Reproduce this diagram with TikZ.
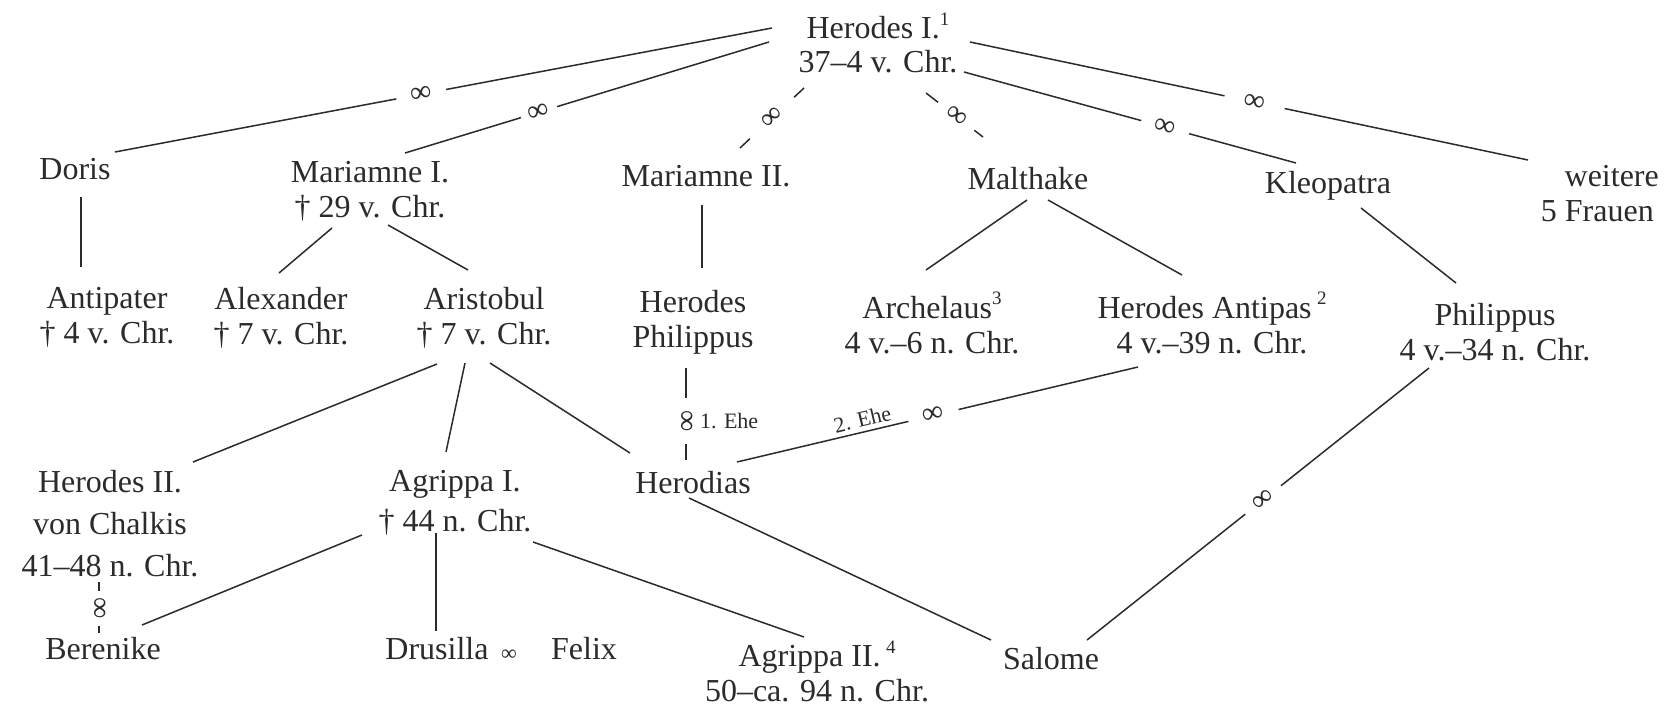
\documentclass[tikz,border=0pt]{standalone}
\usepackage{fontspec}
\setmainfont{Liberation Serif}
\usetikzlibrary{calc}
\definecolor{ink}{HTML}{2B2B2B}
\newcommand\sups[1]{\raisebox{0.42em}{\fontsize{19}{19}\selectfont #1}}
\begin{document}
\begin{tikzpicture}[x=1pt,y=-1pt,
  every node/.style={inner sep=0pt, text=ink, align=center},
  lbl/.style={font=\fontsize{32}{35}\selectfont, text depth=0.25em},
  lblw/.style={font=\fontsize{32}{41}\selectfont, text depth=0.25em},
  rel/.style={draw=ink, line width=1.5pt},
  marr/.style={sloped, fill=white, inner ysep=1pt, font=\fontsize{30}{30}\selectfont},
  small/.style={font=\fontsize{22}{22}\selectfont}]
\fill[white] (0,0) rectangle (1673,707);
\useasboundingbox (0,0) rectangle (1673,707);
% nodes
\node[lbl, font=\fontsize{32}{34}\selectfont] (H1) at (878,44) {Herodes I.\sups{1}\\37–4 v. Chr.};
\node[lbl] (Doris) at (75,170) {Doris};
\node[lbl] (MarI) at (370,191) {Mariamne I.\\† 29 v. Chr.};
\node[lbl] (MarII) at (706,177) {Mariamne II.};
\node[lbl] (Mal) at (1028,180) {Malthake};
\node[lbl] (Kleo) at (1328,184) {Kleopatra};
\node[lbl, anchor=east, align=right] (Weit) at (1654,195) {weitere\hspace*{-5pt}\\5 Frauen};
\node[lbl] (Ant) at (107,317) {Antipater\\† 4 v. Chr.};
\node[lbl] (Alex) at (281,317) {Alexander\\† 7 v. Chr.};
\node[lbl] (Aris) at (484,317) {Aristobul\\† 7 v. Chr.};
\node[lbl] (HPhil) at (693,320) {Herodes\\Philippus};
\node[lbl] (Arch) at (932,324) {Archelaus\sups{3}\\4 v.–6 n. Chr.};
\node[lbl] (Antipas) at (1212,324) {Herodes Antipas\,\sups{2}\\4 v.–39 n. Chr.};
\node[lbl] (Phil) at (1495,333) {Philippus\\4 v.–34 n. Chr.};
\node[lblw, font=\fontsize{32}{42}\selectfont] (HerII) at (110,525) {Herodes II.\\von Chalkis\\41–48 n. Chr.};
\node[lblw, font=\fontsize{32}{40}\selectfont] (AgrI) at (455,502) {Agrippa I.\\† 44 n. Chr.};
\node[lbl] (Herodias) at (693,484) {Herodias};
\node[lbl] (Ber) at (103,650) {Berenike};
\node[lbl] (Drus) at (437,650) {Drusilla};
\node[font=\fontsize{22}{22}\selectfont] (DF) at (509,655) {∞};
\node[lbl] (Felix) at (584,650) {Felix};
\node[lbl, text depth=0pt, anchor=south] (AgrII) at (817,702) {Agrippa II.\,\sups{4}\\50–ca. 94 n. Chr.};
\node[lbl] (Salome) at (1051,660) {Salome};
% marriages of Herodes I.
\draw[rel] ([shift={(-106,-16)}]H1.center) -- node[marr,pos=0.534,inner xsep=14.5pt]{∞} ([shift={(40,-18)}]Doris.center);
\draw[rel] ([shift={(-109,-2)}]H1.center) -- node[marr,pos=0.632,inner xsep=8pt]{∞} ([shift={(35,-38)}]MarI.center);
\draw[rel] ([shift={(-74,44)}]H1.center) -- node[marr,pos=0.5,inner xsep=19.5pt]{∞} ([shift={(34,-29)}]MarII.center);
\draw[rel] ([shift={(48,49)}]H1.center) -- node[marr,pos=0.53,inner xsep=12pt]{∞} ([shift={(-45,-43)}]Mal.center);
\draw[rel] ([shift={(86,28)}]H1.center) -- node[marr,pos=0.606,inner xsep=14pt]{∞} ([shift={(-32,-21)}]Kleo.center);
\draw[rel] ([shift={(92,-2)}]H1.center) -- node[marr,pos=0.51,inner xsep=20pt]{∞} ([shift={(-126,-35)}]Weit.east);
% children
\draw[rel] ([shift={(6,27)}]Doris.center) -- ([shift={(-26,-50)}]Ant.center);
\draw[rel] ([shift={(-38,37)}]MarI.center) -- ([shift={(-2,-44)}]Alex.center);
\draw[rel] ([shift={(18,34)}]MarI.center) -- ([shift={(-16,-47)}]Aris.center);
\draw[rel] ([shift={(-4,28)}]MarII.center) -- ([shift={(9,-52)}]HPhil.center);
\draw[rel] ([shift={(-1,20)}]Mal.center) -- ([shift={(-6,-54)}]Arch.center);
\draw[rel] ([shift={(20,20)}]Mal.center) -- ([shift={(-30,-49)}]Antipas.center);
\draw[rel] ([shift={(33,24)}]Kleo.center) -- ([shift={(-39,-50)}]Phil.center);
\draw[rel] ([shift={(-47,47)}]Aris.center) -- ([shift={(83,-63)}]HerII.center);
\draw[rel] ([shift={(-19,46)}]Aris.center) -- ([shift={(-9,-50)}]AgrI.center);
\draw[rel] ([shift={(6,46)}]Aris.center) -- ([shift={(-63,-31)}]Herodias.center);
\draw[rel] ([shift={(-4,14)}]Herodias.center) -- ([shift={(-60,-20)}]Salome.center);
\draw[rel] ([shift={(-93,33)}]AgrI.center) -- ([shift={(39,-25)}]Ber.center);
\draw[rel] ([shift={(-19,31)}]AgrI.center) -- ([shift={(-1,-19)}]Drus.center);
\draw[rel] ([shift={(78,40)}]AgrI.center) -- ([shift={(-13,-65)}]AgrII.south);
% later marriages
\draw[rel] ([shift={(-7,48)}]HPhil.center) -- node[marr,pos=0.576,inner xsep=12pt] (m1) {∞} ([shift={(-7,-24)}]Herodias.center);
\node[small, anchor=west] (e1) at ([xshift=14pt]m1.center) {1. Ehe};
\draw[rel] ([shift={(-74,43)}]Antipas.center) -- node[marr,pos=0.51,inner xsep=15pt]{∞} node[small,sloped,above=4pt,pos=0.68]{2. Ehe} ([shift={(44,-22)}]Herodias.center);
\draw[rel] ([shift={(-66,35)}]Phil.center) -- node[marr,pos=0.485,inner xsep=12pt]{∞} ([shift={(36,-20)}]Salome.center);
\draw[rel] ([shift={(-11,57)}]HerII.center) -- node[marr,pos=0.52,inner xsep=7pt]{∞} ([shift={(-4,-17)}]Ber.center);
\end{tikzpicture}
\end{document}
